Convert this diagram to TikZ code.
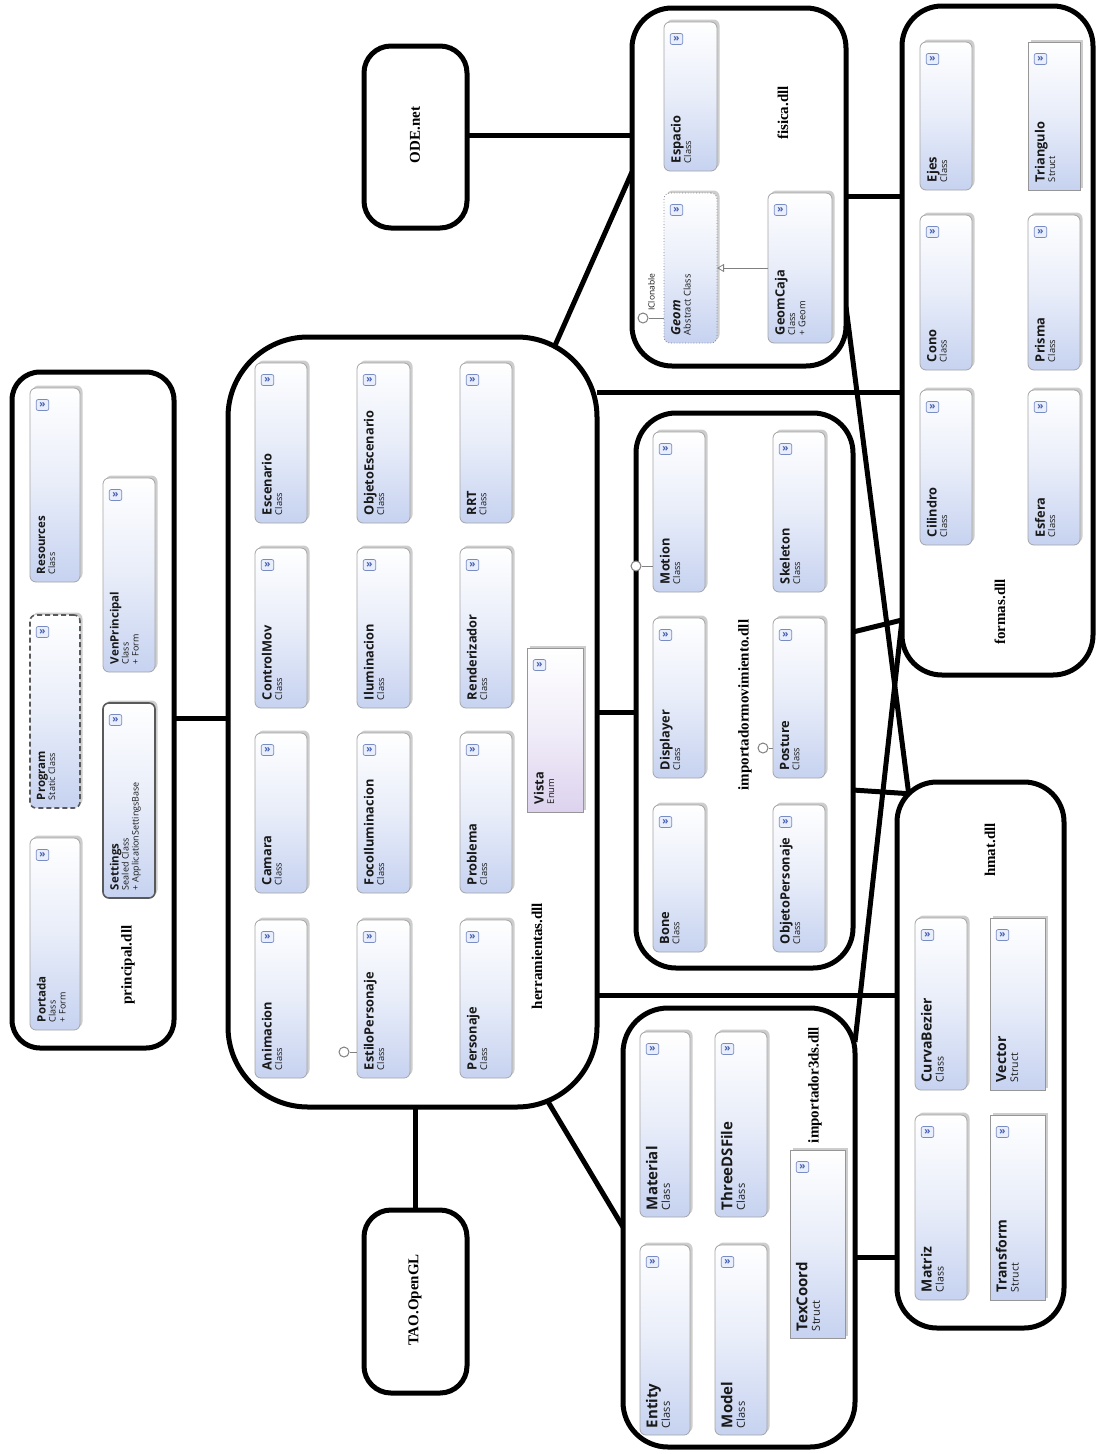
\documentclass[tikz,border=0pt]{standalone}
\usepackage{fontspec}
\setmainfont{Liberation Serif}
\newfontfamily\clsfont{Open Sans}
\usetikzlibrary{fit,calc,shadows,arrows.meta,backgrounds}

\definecolor{clsblue}{RGB}{198,210,240}
\colorlet{clsmid}{white!60!clsblue}
\definecolor{clsborder}{RGB}{165,165,165}
\definecolor{structborder}{RGB}{150,150,150}
\definecolor{enumlav}{RGB}{220,210,238}
\colorlet{enummid}{white!60!enumlav}
\definecolor{iconblue}{RGB}{70,95,175}
\definecolor{iconfill}{RGB}{232,238,252}
\definecolor{iconborder}{RGB}{120,140,195}
\definecolor{shadowgray}{RGB}{205,205,205}
\definecolor{txtgray}{RGB}{25,25,25}

\newcommand\tsz{12.8}
\newcommand\ssz{9.3}
\newcommand\lsz{10.3}
\newcommand\ctitle{\clsfont\bfseries\fontsize{\tsz}{\lsz}\selectfont}
\newcommand\csub{\clsfont\fontsize{\ssz}{\lsz}\selectfont}
\newcommand\inx{7}
\newcommand\iny{8}

\tikzset{
  cont/.style={draw=black, line width=5pt, fill=white, inner sep=0pt, outer sep=0pt},
  conn/.style={draw=black, line width=5pt},
  clsbox/.style={draw=clsborder, line width=0.8pt, rounded corners=6pt,
    top color=white, bottom color=clsblue, middle color=clsmid,
    inner sep=0pt, outer sep=0pt,
    drop shadow={shadow xshift=2.5pt, shadow yshift=2.5pt, fill=shadowgray, opacity=1}},
  structbox/.style={sharp corners, draw=structborder},
  enumbox/.style={sharp corners, draw=structborder, top color=white, bottom color=enumlav, middle color=enummid},
  progbox/.style={draw=black!65, line width=1.6pt, dash pattern=on 5pt off 3pt},
  sealedbox/.style={draw=black!65, line width=1.6pt},
  abstractbox/.style={draw=gray, line width=0.8pt, dotted},
  ctext/.style={rotate=90, anchor=north west, align=left, inner sep=0pt, outer sep=0pt, font=\csub, text=txtgray},
  icon/.style={draw=iconborder, fill=iconfill, rounded corners=2pt, minimum width=12.5pt, minimum height=11pt,
    inner sep=0pt, line width=0.7pt, text=iconblue, font=\clsfont\bfseries\fontsize{10}{10}\selectfont},
  lbl/.style={rotate=90, inner sep=0pt, font=\rmfamily\bfseries\fontsize{15}{15}\selectfont},
  lolli/.style={circle, draw=gray, fill=white, line width=1pt, minimum size=10pt, inner sep=0pt},
  lolline/.style={draw=gray, line width=0.8pt},
  iface/.style={rotate=90, anchor=south west, inner sep=0pt, text=txtgray, font=\clsfont\fontsize{8.5}{9}\selectfont},
  inh/.style={draw=gray, line width=0.8pt, -{Triangle[open, length=7pt, width=8pt]}}
}

\newcommand\umlcls[8][]{%
  \node[clsbox,#1,fit={(#3,#4) (#5,#6)}] (#2) {};
  \node[ctext] (#2-t) at ($(#2.south west)+(\inx,-\iny)$) {{\ctitle #7}\\#8};
  \node[icon] (#2-i) at ($(#2.north west)+(12.5,17)$) {\raisebox{0.6pt}{»}};
}

\begin{document}
\begin{tikzpicture}[x=1pt,y=-1pt]
\useasboundingbox (0,0) rectangle (1098,1454);
\begin{scope}[on background layer]
  \fill[white] (0,0) rectangle (1098,1454);
\end{scope}

% ---------- containers ----------
\node[cont, rounded corners=28pt, fit={(12,372) (174,1048)}] (principal) {};
\node[cont, rounded corners=80pt, fit={(228,337) (597,1107)}] (herr) {};
\node[cont, rounded corners=27pt, fit={(364,46) (467,228)}] (ode) {};
\node[cont, rounded corners=27pt, fit={(364,1210) (467,1393)}] (tao) {};
\node[cont, rounded corners=40pt, fit={(632,8) (846,366)}] (fisica) {};
\node[cont, rounded corners=40pt, fit={(902,6) (1093,675)}] (formas) {};
\node[cont, rounded corners=40pt, fit={(636,413) (853,968)}] (imov) {};
\node[cont, rounded corners=45pt, fit={(623,1008) (855,1447)}] (i3ds) {};
\node[cont, rounded corners=40pt, fit={(897,782) (1064,1328)}] (hmat) {};

% ---------- container labels ----------
\node[lbl] (principal-l) at (128,965) {principal.dll};
\node[lbl] (herr-l) at (537,956) {herramientas.dll};
\node[lbl] (ode-l) at (415,135) {ODE.net};
\node[lbl] (tao-l) at (415,1300) {TAO.OpenGL};
\node[lbl] (fisica-l) at (783,113) {fisica.dll};
\node[lbl] (formas-l) at (1000,612) {formas.dll};
\node[lbl] (imov-l) at (745,705) {importadormovimiento.dll};
\node[lbl] (i3ds-l) at (815,1085) {importador3ds.dll};
\node[lbl] (hmat-l) at (990,850) {hmat.dll};

% ---------- principal.dll ----------
\begin{scope}
\renewcommand\tsz{11.5}\renewcommand\ssz{9}\renewcommand\lsz{10}
\umlcls{resources}{30}{388}{80}{582}{Resources}{Class}
\umlcls[progbox]{program}{30}{615}{80}{808}{Program}{Static Class}
\umlcls{portada}{30}{838}{80}{1030}{Portada}{Class\\+ Form}
\umlcls{venprincipal}{103}{478}{155}{672}{VenPrincipal}{Class\\+ Form}
\umlcls[sealedbox]{settings}{103}{703}{155}{898}{Settings}{Sealed Class\\+ ApplicationSettingsBase}
\end{scope}

% ---------- herramientas.dll ----------
\begin{scope}
\umlcls{escenario}{255}{363}{307}{523}{Escenario}{Class}
\umlcls{objetoesc}{357}{363}{410}{523}{ObjetoEscenario}{Class}
\umlcls{rrt}{460}{363}{512}{523}{RRT}{Class}
\umlcls{controlmov}{255}{548}{307}{708}{ControlMov}{Class}
\umlcls{iluminacion}{357}{548}{410}{708}{Iluminacion}{Class}
\umlcls{renderizador}{460}{548}{512}{708}{Renderizador}{Class}
\umlcls{camara}{255}{733}{307}{893}{Camara}{Class}
\umlcls{foco}{357}{733}{410}{893}{FocoIluminacion}{Class}
\umlcls{problema}{460}{733}{512}{893}{Problema}{Class}
\umlcls{animacion}{255}{920}{307}{1078}{Animacion}{Class}
\umlcls{estilo}{357}{920}{410}{1078}{EstiloPersonaje}{Class}
\umlcls{personaje}{460}{920}{512}{1078}{Personaje}{Class}
\umlcls[enumbox]{vista}{527}{648}{583}{812}{Vista}{Enum}
\end{scope}
\node[lolli] (lp-estilo) at (344,1052) {};
\draw[lolline] (lp-estilo.east) -- (estilo.west |- lp-estilo.east);

% ---------- fisica.dll ----------
\begin{scope}
\umlcls{espacio}{664}{22}{717}{171}{Espacio}{Class}
\umlcls[abstractbox]{geom}{664}{193}{717}{343}{\itshape Geom}{Abstract Class}
\umlcls{geomcaja}{768}{193}{832}{343}{GeomCaja}{Class\\+ Geom}
\end{scope}
\draw[inh] (geomcaja.west) -- (geom.east);
\node[lolli] (lp-geom) at (643,318) {};
\draw[lolline] (lp-geom.east) -- (geom.west |- lp-geom.east);
\node[iface] (iclon) at (655,311) {IClonable};

% ---------- formas.dll ----------
\begin{scope}
\umlcls{ejes}{920}{42}{972}{190}{Ejes}{Class}
\umlcls{cono}{920}{215}{972}{370}{Cono}{Class}
\umlcls{cilindro}{920}{390}{972}{545}{Cilindro}{Class}
\umlcls[structbox]{triangulo}{1028}{42}{1080}{190}{Triangulo}{Struct}
\umlcls{prisma}{1028}{215}{1080}{370}{Prisma}{Class}
\umlcls{esfera}{1028}{390}{1080}{545}{Esfera}{Class}
\end{scope}

% ---------- importadormovimiento.dll ----------
\begin{scope}
\umlcls{motion}{653}{432}{705}{592}{Motion}{Class}
\umlcls{displayer}{653}{618}{705}{778}{Displayer}{Class}
\umlcls{bone}{653}{805}{705}{952}{Bone}{Class}
\umlcls{skeleton}{773}{432}{825}{592}{Skeleton}{Class}
\umlcls{posture}{773}{618}{825}{778}{Posture}{Class}
\umlcls{objetopers}{773}{805}{825}{952}{ObjetoPersonaje}{Class}
\end{scope}
\node[lolli] (lp-motion) at (636,566) {};
\draw[lolline] (lp-motion.east) -- (motion.west |- lp-motion.east);
\node[lolli] (lp-posture) at (763,748) {};
\draw[lolline] (lp-posture.east) -- (posture.west |- lp-posture.east);

% ---------- importador3ds.dll ----------
\begin{scope}
\renewcommand\tsz{15}\renewcommand\ssz{11}\renewcommand\lsz{12.5}\renewcommand\inx{6}\renewcommand\iny{7}
\umlcls{material}{640}{1032}{690}{1217}{Material}{Class}
\umlcls{entity}{640}{1245}{690}{1435}{Entity}{Class}
\umlcls{threeds}{715}{1032}{767}{1217}{ThreeDSFile}{Class}
\umlcls{model}{715}{1245}{767}{1435}{Model}{Class}
\umlcls[structbox]{texcoord}{790}{1150}{845}{1338}{TexCoord}{Struct}
\end{scope}

% ---------- hmat.dll ----------
\begin{scope}
\renewcommand\tsz{14}\renewcommand\ssz{10.5}\renewcommand\lsz{12}\renewcommand\inx{6}\renewcommand\iny{8}
\umlcls{curvabezier}{915}{918}{967}{1090}{CurvaBezier}{Class}
\umlcls{matriz}{915}{1115}{967}{1300}{Matriz}{Class}
\umlcls[structbox]{vector}{990}{918}{1045}{1090}{Vector}{Struct}
\umlcls[structbox]{transform}{990}{1115}{1045}{1300}{Transform}{Struct}
\end{scope}

% ---------- connectors ----------
\begin{scope}[on background layer]
\draw[conn] (principal.east |- 0,718) -- (herr.west |- 0,718);
\draw[conn] (ode.east |- 0,135) -- (fisica.west |- 0,135);
\draw[conn] ($(herr.north east)+(-44,13)$) -- (fisica.west |- 0,172);
\draw[conn] (herr.east |- 0,392) -- (formas.west |- 0,392);
\draw[conn] (herr.east |- 0,712) -- (imov.west |- 0,712);
\draw[conn] (herr.east |- 0,995) -- (hmat.west |- 0,995);
\draw[conn] (tao.north |- herr.south) -- (tao.north);
\draw[conn] ($(herr.south east)+(-50,-7)$) -- (i3ds.west |- 0,1227);
\draw[conn] (fisica.east |- 0,196) -- (formas.west |- 0,196);
\draw[conn] (fisica.east |- 0,307) -- ($(hmat.north west)+(11.7,11.7)$);
\draw[conn] (imov.east |- 0,632) -- (formas.west |- 0,620);
\draw[conn] (imov.east |- 0,790) -- ($(hmat.north west)+(11.7,11.7)$);
\draw[conn] (formas.west |- 0,620) -- (i3ds.east |- 0,1042);
\draw[conn] (i3ds.east |- 0,1257) -- (hmat.west |- 0,1257);
\end{scope}
\end{tikzpicture}
\end{document}
